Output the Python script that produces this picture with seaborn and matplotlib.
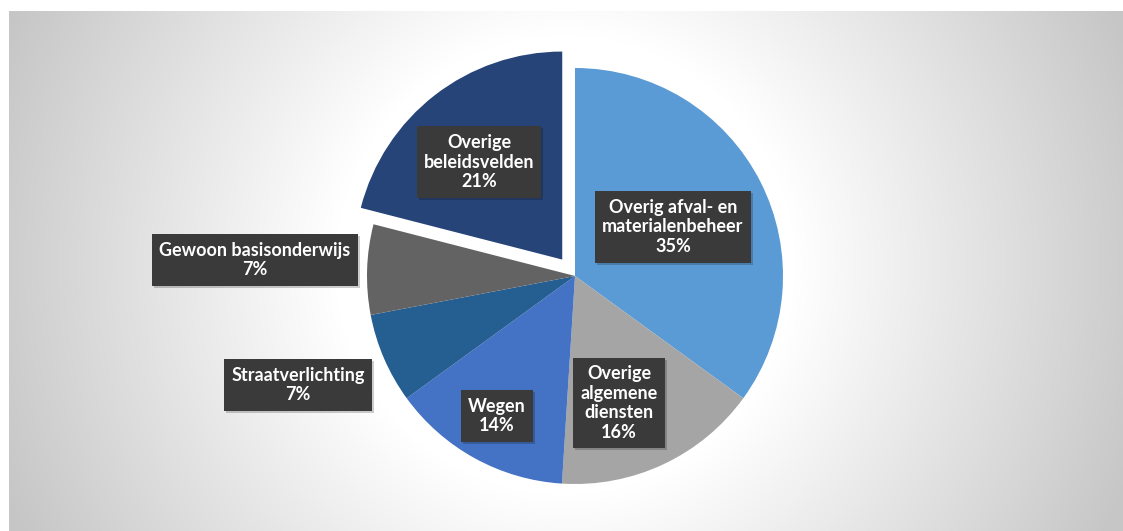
import numpy as np
import matplotlib
matplotlib.use("Agg")
import matplotlib.pyplot as plt
import seaborn as sns

# Budget share per policy field (percent), clockwise from 12 o'clock
categories = [
    "Overig afval- en\nmaterialenbeheer",
    "Overige\nalgemene\ndiensten",
    "Wegen",
    "Straatverlichting",
    "Gewoon basisonderwijs",
    "Overige\nbeleidsvelden",
]
shares = [35, 16, 14, 7, 7, 21]
colors = ["#5B9BD5", "#A5A5A5", "#4472C4", "#255E91", "#636363", "#264478"]
pulled_out = [False, False, False, False, False, True]

# Label box centres in figure pixel space (x right, y up)
label_pos = [(673, 304), (619, 128), (497, 115), (298, 146), (255, 271), (479, 369)]

sns.set_style("white")
plt.rcParams["font.family"] = ["Lato", "DejaVu Sans"]

W, H = 1123, 531
fig = plt.figure(figsize=(W / 100, H / 100), dpi=100)
fig.patch.set_facecolor("white")

# Radial grey gradient behind the chart
left_px, top_px = 9, 11
bg = fig.add_axes([left_px / W, 0, 1 - left_px / W, 1 - top_px / H])
xs = np.arange(left_px, W) + 0.5
ys = np.arange(top_px, H) + 0.5
X, Y = np.meshgrid(xs, ys)
d = np.hypot(X - 565, Y - 265)
t = np.clip((d - 230) / (600 - 230), 0, 1)
v = 1 - 0.22 * t
bg.imshow(np.dstack([v, v, v]), aspect="auto", interpolation="bilinear")
bg.set_axis_off()

ax = fig.add_axes([0, 0, 1, 1])
ax.set_aspect("equal")
ax.patch.set_alpha(0)

radius = 208
explode = [0.1 * radius if p else 0 for p in pulled_out]

palette = sns.color_palette(colors)
ax.pie(
    shares,
    colors=palette,
    explode=explode,
    startangle=90,
    counterclock=False,
    radius=radius,
    center=(575, 255),
    wedgeprops=dict(linewidth=0),
    frame=True,
)
ax.set_xlim(0, W)
ax.set_ylim(0, H)
ax.set_axis_off()

for name, val, (x, y) in zip(categories, shares, label_pos):
    label = f"{name}\n{val}%"
    # soft drop shadow under the label box
    ax.text(
        x + 2, y - 2, label,
        ha="center", va="center", fontsize=13, fontweight="bold",
        color=(0, 0, 0, 0), linespacing=1.2,
        bbox=dict(boxstyle="square,pad=0.4", facecolor="black", edgecolor="none", alpha=0.2),
    )
    ax.text(
        x, y, label,
        ha="center", va="center", fontsize=13, fontweight="bold",
        color="white", linespacing=1.2,
        bbox=dict(boxstyle="square,pad=0.4", facecolor="#3A3A3A", edgecolor="none"),
    )

fig.savefig("out.png", dpi=100)
